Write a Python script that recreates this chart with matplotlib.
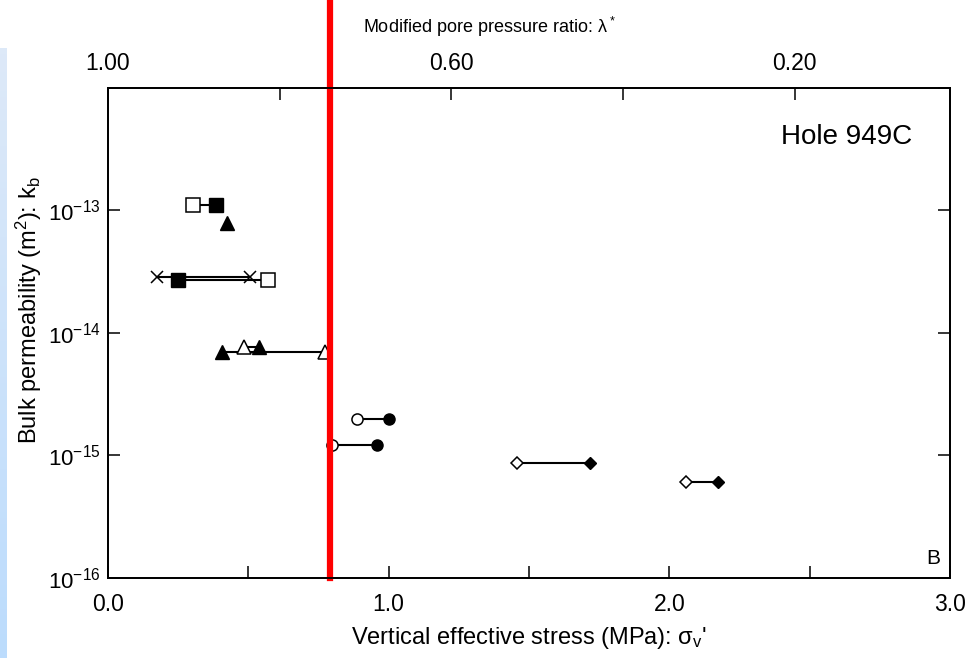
#!/usr/bin/env python3
"""Bulk permeability against vertical effective stress, Hole 949C."""

import matplotlib

matplotlib.use("Agg")
import matplotlib.pyplot as plt  # type: ignore
import numpy as np  # type: ignore
from matplotlib.colors import LinearSegmentedColormap  # type: ignore
from matplotlib.ticker import FixedLocator, FixedFormatter, NullLocator  # type: ignore

# paired measurements: open marker -> filled marker at the same permeability
sigma_open = [0.304, np.nan, 0.174, 0.569, 0.773, 0.485, 0.888, 0.797, 1.456, 2.058]
sigma_filled = [0.385, 0.425, 0.506, 0.251, 0.405, 0.539, 1.001, 0.957, 1.717, 2.174]
k_pair = [1.11e-13, 7.9e-14, 2.83e-14, 2.70e-14, 6.97e-15, 7.6e-15,
          2.0e-15, 1.21e-15, 8.7e-16, 6.1e-16]
pair_shape = ["s", "^", "x", "s", "^", "^", "o", "o", "D", "D"]

sigma_ticks = [0.0, 0.5, 1.0, 1.5, 2.0, 2.5, 3.0]
sigma_labels = ["0.0", "", "1.0", "", "2.0", "", "3.0"]
k_ticks = [1e-16, 1e-15, 1e-14, 1e-13, 1e-12]
k_labels = ["10$^{-16}$", "10$^{-15}$", "10$^{-14}$", "10$^{-13}$", ""]
lambda_ticks = [1.0, 0.8, 0.6, 0.4, 0.2]
lambda_labels = ["1.00", "", "0.60", "", "0.20"]
lambda_per_mpa = 0.327  # lambda* = 1 - 0.327 * sigma
red_sigma = 0.79

plt.rcParams["font.family"] = ["Liberation Sans", "DejaVu Sans"]
plt.rcParams["mathtext.fontset"] = "custom"
plt.rcParams["mathtext.rm"] = "Liberation Sans"
plt.rcParams["mathtext.it"] = "Liberation Sans"


def main():
    fig = plt.figure(figsize=(9.67, 6.58), dpi=100)

    # light blue strip on the left edge
    band = fig.add_axes([0, 0, 7 / 967, 1 - 48 / 658])
    cmap = LinearSegmentedColormap.from_list("band", ["#dde9f8", "#bcdcfd"])
    band.imshow(np.linspace(0, 1, 100).reshape(-1, 1), aspect="auto", cmap=cmap)
    band.axis("off")

    ax = fig.add_axes([108 / 967, 1 - 578 / 658, 842 / 967, 490.3 / 658])
    for xo, xf, k, m in zip(sigma_open, sigma_filled, k_pair, pair_shape):
        size = {"s": 9.5, "^": 9.5, "x": 8, "o": 8, "D": 6}[m]
        if not np.isnan(xo):
            ax.plot([xo, xf], [k, k], color="black", lw=1.5, zorder=2)
            if m == "x":
                ax.plot(xo, k, marker="x", ms=size, color="black", mew=1.1, zorder=3)
            else:
                ax.plot(xo, k, marker=m, ms=size, mfc="white", mec="black",
                        mew=1.1, zorder=3)
        if m == "x":
            ax.plot(xf, k, marker="x", ms=size, color="black", mew=1.1, zorder=3)
        else:
            ax.plot(xf, k, marker=m, ms=size, mfc="black", mec="black", zorder=3)

    ax.set_yscale("log")
    ax.set_xlim(0, 3)
    ax.set_ylim(1e-16, 1e-12)
    ax.xaxis.set_major_locator(FixedLocator(sigma_ticks))
    ax.xaxis.set_major_formatter(FixedFormatter(sigma_labels))
    ax.yaxis.set_major_locator(FixedLocator(k_ticks))
    ax.yaxis.set_major_formatter(FixedFormatter(k_labels))
    ax.yaxis.set_minor_locator(NullLocator())
    ax.tick_params(axis="both", which="major", direction="in", length=8.5,
                   width=1.1, labelsize=16.5, colors="black")
    ax.tick_params(axis="y", right=True, pad=5, labelsize=16)
    ax.tick_params(axis="x", pad=11)
    for spine in ax.spines.values():
        spine.set_linewidth(1.3)

    ax.set_xlabel("Vertical effective stress (MPa): $\\sigma_v$'", fontsize=17,
                  labelpad=6)
    ax.set_ylabel("Bulk permeability (m$^2$): k$_b$", fontsize=17)
    ax.yaxis.set_label_coords(-0.076, 0.547)

    top = ax.twiny()
    top.set_xlim(1.0, 1.0 - 3 * lambda_per_mpa)
    top.xaxis.set_major_locator(FixedLocator(lambda_ticks))
    top.xaxis.set_major_formatter(FixedFormatter(lambda_labels))
    top.tick_params(axis="x", direction="in", length=8.5, width=1.1,
                    labelsize=16.5, pad=9)
    for spine in top.spines.values():
        spine.set_linewidth(1.3)
    fig.text(490 / 967, 1 - 27 / 658, "Modified pore pressure ratio: $\\lambda^*$",
             ha="center", va="center", fontsize=13)

    ax.text(0.955, 0.9, "Hole 949C", transform=ax.transAxes, ha="right",
            va="center", fontsize=20)
    ax.text(0.988, 0.04, "B", transform=ax.transAxes, ha="right", va="center",
            fontsize=15)

    ax.axvline(red_sigma, ymin=0, ymax=1 + 87.7 / 490.3, color="#ff0000",
               lw=4.5, clip_on=False, zorder=5)

    fig.savefig("out.png", dpi=100)


if __name__ == "__main__":
    main()
